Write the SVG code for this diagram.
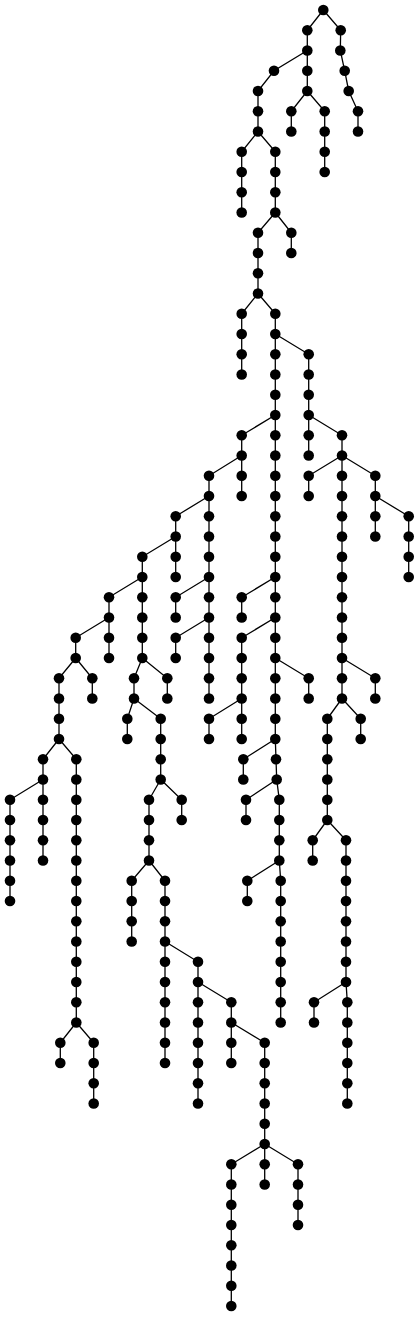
<svg xmlns="http://www.w3.org/2000/svg" width="419" height="1317" viewBox="0 0 419 1317">
<style>
.e path{fill:none;stroke:#000;stroke-width:1.3}
.n circle{fill:#000}
</style>
<rect width="419" height="1317" fill="#fff"/>
<g id="connectors" class="e">
<path d="M323.3 10 L307.3 30.3 V91"/>
<path d="M323.3 10 L340.7 30.3 L340.3 50.5 L344.7 70.8 L348.7 91 L358 111.3 V131.5"/>
<path d="M307.3 50.5 L274 70.8 L258 91 V131.5"/>
<path d="M307.3 91 L291.3 111.3 V131.5"/>
<path d="M307.3 91 L324.7 111.3 V172"/>
<path d="M258 131.5 L241.7 151.8 V212.5"/>
<path d="M258 131.5 L275.3 151.8 V212.5"/>
<path d="M275.3 212.5 L258 232.8 V293.5"/>
<path d="M275.3 212.5 L291.3 232.8 V253"/>
<path d="M258 293.5 L241.7 313.8 V374.5"/>
<path d="M258 293.5 L275.3 313.8 V739 L276 759.3 L276.7 779.5 L279.3 799.8 V860.5 L280.7 880.8 V1022.5"/>
<path d="M275.3 334 L308.7 354.3 V455.5"/>
<path d="M308.7 415 L342 435.3 V698.5"/>
<path d="M275.3 415 L241.7 435.3 V496"/>
<path d="M241.7 455.5 L209 475.8 V698.5"/>
<path d="M342 455.5 L308.7 475.8 V496"/>
<path d="M342 455.5 L375.3 475.8 V536.5"/>
<path d="M375.3 496 L408.7 516.3 V577"/>
<path d="M209 496 L175.7 516.3 V577"/>
<path d="M175.7 536.5 L142.3 556.8 V658"/>
<path d="M142.3 577 L109 597.3 V658"/>
<path d="M109 617.5 L75.7 637.8 V658"/>
<path d="M209 577 L175.7 597.3 V617.5"/>
<path d="M209 617.5 L175.7 637.8 V658"/>
<path d="M275.3 577 L241.7 597.3 V617.5"/>
<path d="M275.3 617.5 L241.7 637.8 V739"/>
<path d="M241.7 698.5 L209 718.8 V739"/>
<path d="M275.3 658 L308.7 678.3 V698.5"/>
<path d="M342 658 L375.3 678.3 V698.5"/>
<path d="M342 698.5 L327.3 718.8 V820"/>
<path d="M342 698.5 L360.7 718.8 V739"/>
<path d="M275.3 739 L243.3 759.3 V779.5"/>
<path d="M276.7 779.5 L246 799.8 V820"/>
<path d="M279.3 860.5 L247.3 880.8 V901"/>
<path d="M327.3 820 L312.7 840.3 V860.5"/>
<path d="M327.3 820 L346 840.3 V982"/>
<path d="M346 982 L314 1002.3 V1022.5"/>
<path d="M346 982 L347.3 1002.3 V1103.5"/>
<path d="M75.7 658 L59 678.3 V739"/>
<path d="M75.7 658 L92.3 678.3 V698.5"/>
<path d="M59 739 L43 759.3 V860.5"/>
<path d="M43 779.5 L10 799.8 V901"/>
<path d="M59 739 L76.3 759.3 V1022.5"/>
<path d="M76.3 1022.5 L60.3 1042.8 V1063"/>
<path d="M76.3 1022.5 L93.7 1042.8 V1103.5"/>
<path d="M142.3 658 L134 678.3 V698.5"/>
<path d="M142.3 658 L167.3 678.3 V698.5"/>
<path d="M134 698.5 L127.3 718.8 V739"/>
<path d="M134 698.5 L160.7 718.8 V779.5"/>
<path d="M160.7 779.5 L149 799.8 V860.5"/>
<path d="M160.7 779.5 L181.7 799.8 V820"/>
<path d="M149 860.5 L131.7 880.8 V941.5"/>
<path d="M149 860.5 L165 880.8 V1063"/>
<path d="M165 941.5 L198 961.8 V1103.5"/>
<path d="M198 982 L231.3 1002.3 V1063"/>
<path d="M231.3 1022.5 L264.7 1042.8 V1184.5"/>
<path d="M264.7 1144 L231.3 1164.3 V1306"/>
<path d="M264.7 1144 L298 1164.3 V1225"/>
</g>
<g id="nodes" class="n">
<g id="n0"><circle cx="323.3" cy="10" r="5.3"/></g>
<g id="n1"><circle cx="307.3" cy="30.3" r="5.3"/></g>
<g id="n2"><circle cx="307.3" cy="50.5" r="5.3"/></g>
<g id="n3"><circle cx="307.3" cy="70.8" r="5.3"/></g>
<g id="n4"><circle cx="307.3" cy="91" r="5.3"/></g>
<g id="n5"><circle cx="340.7" cy="30.3" r="5.3"/></g>
<g id="n6"><circle cx="340.3" cy="50.5" r="5.3"/></g>
<g id="n7"><circle cx="344.7" cy="70.8" r="5.3"/></g>
<g id="n8"><circle cx="348.7" cy="91" r="5.3"/></g>
<g id="n9"><circle cx="358" cy="111.3" r="5.3"/></g>
<g id="n10"><circle cx="358" cy="131.5" r="5.3"/></g>
<g id="n11"><circle cx="274" cy="70.8" r="5.3"/></g>
<g id="n12"><circle cx="258" cy="91" r="5.3"/></g>
<g id="n13"><circle cx="258" cy="111.3" r="5.3"/></g>
<g id="n14"><circle cx="258" cy="131.5" r="5.3"/></g>
<g id="n15"><circle cx="291.3" cy="111.3" r="5.3"/></g>
<g id="n16"><circle cx="291.3" cy="131.5" r="5.3"/></g>
<g id="n17"><circle cx="324.7" cy="111.3" r="5.3"/></g>
<g id="n18"><circle cx="324.7" cy="131.5" r="5.3"/></g>
<g id="n19"><circle cx="324.7" cy="151.8" r="5.3"/></g>
<g id="n20"><circle cx="324.7" cy="172" r="5.3"/></g>
<g id="n21"><circle cx="241.7" cy="151.8" r="5.3"/></g>
<g id="n22"><circle cx="241.7" cy="172" r="5.3"/></g>
<g id="n23"><circle cx="241.7" cy="192.3" r="5.3"/></g>
<g id="n24"><circle cx="241.7" cy="212.5" r="5.3"/></g>
<g id="n25"><circle cx="275.3" cy="151.8" r="5.3"/></g>
<g id="n26"><circle cx="275.3" cy="172" r="5.3"/></g>
<g id="n27"><circle cx="275.3" cy="192.3" r="5.3"/></g>
<g id="n28"><circle cx="275.3" cy="212.5" r="5.3"/></g>
<g id="n29"><circle cx="258" cy="232.8" r="5.3"/></g>
<g id="n30"><circle cx="258" cy="253" r="5.3"/></g>
<g id="n31"><circle cx="258" cy="273.3" r="5.3"/></g>
<g id="n32"><circle cx="258" cy="293.5" r="5.3"/></g>
<g id="n33"><circle cx="291.3" cy="232.8" r="5.3"/></g>
<g id="n34"><circle cx="291.3" cy="253" r="5.3"/></g>
<g id="n35"><circle cx="241.7" cy="313.8" r="5.3"/></g>
<g id="n36"><circle cx="241.7" cy="334" r="5.3"/></g>
<g id="n37"><circle cx="241.7" cy="354.3" r="5.3"/></g>
<g id="n38"><circle cx="241.7" cy="374.5" r="5.3"/></g>
<g id="n39"><circle cx="275.3" cy="313.8" r="5.3"/></g>
<g id="n40"><circle cx="275.3" cy="334" r="5.3"/></g>
<g id="n41"><circle cx="275.3" cy="354.3" r="5.3"/></g>
<g id="n42"><circle cx="275.3" cy="374.5" r="5.3"/></g>
<g id="n43"><circle cx="275.3" cy="394.8" r="5.3"/></g>
<g id="n44"><circle cx="275.3" cy="415" r="5.3"/></g>
<g id="n45"><circle cx="275.3" cy="435.3" r="5.3"/></g>
<g id="n46"><circle cx="275.3" cy="455.5" r="5.3"/></g>
<g id="n47"><circle cx="275.3" cy="475.8" r="5.3"/></g>
<g id="n48"><circle cx="275.3" cy="496" r="5.3"/></g>
<g id="n49"><circle cx="275.3" cy="516.3" r="5.3"/></g>
<g id="n50"><circle cx="275.3" cy="536.5" r="5.3"/></g>
<g id="n51"><circle cx="275.3" cy="556.8" r="5.3"/></g>
<g id="n52"><circle cx="275.3" cy="577" r="5.3"/></g>
<g id="n53"><circle cx="275.3" cy="597.3" r="5.3"/></g>
<g id="n54"><circle cx="275.3" cy="617.5" r="5.3"/></g>
<g id="n55"><circle cx="275.3" cy="637.8" r="5.3"/></g>
<g id="n56"><circle cx="275.3" cy="658" r="5.3"/></g>
<g id="n57"><circle cx="275.3" cy="678.3" r="5.3"/></g>
<g id="n58"><circle cx="275.3" cy="698.5" r="5.3"/></g>
<g id="n59"><circle cx="275.3" cy="718.8" r="5.3"/></g>
<g id="n60"><circle cx="275.3" cy="739" r="5.3"/></g>
<g id="n61"><circle cx="276" cy="759.3" r="5.3"/></g>
<g id="n62"><circle cx="276.7" cy="779.5" r="5.3"/></g>
<g id="n63"><circle cx="279.3" cy="799.8" r="5.3"/></g>
<g id="n64"><circle cx="279.3" cy="820" r="5.3"/></g>
<g id="n65"><circle cx="279.3" cy="840.3" r="5.3"/></g>
<g id="n66"><circle cx="279.3" cy="860.5" r="5.3"/></g>
<g id="n67"><circle cx="280.7" cy="880.8" r="5.3"/></g>
<g id="n68"><circle cx="280.7" cy="901" r="5.3"/></g>
<g id="n69"><circle cx="280.7" cy="921.3" r="5.3"/></g>
<g id="n70"><circle cx="280.7" cy="941.5" r="5.3"/></g>
<g id="n71"><circle cx="280.7" cy="961.8" r="5.3"/></g>
<g id="n72"><circle cx="280.7" cy="982" r="5.3"/></g>
<g id="n73"><circle cx="280.7" cy="1002.3" r="5.3"/></g>
<g id="n74"><circle cx="280.7" cy="1022.5" r="5.3"/></g>
<g id="n75"><circle cx="308.7" cy="354.3" r="5.3"/></g>
<g id="n76"><circle cx="308.7" cy="374.5" r="5.3"/></g>
<g id="n77"><circle cx="308.7" cy="394.8" r="5.3"/></g>
<g id="n78"><circle cx="308.7" cy="415" r="5.3"/></g>
<g id="n79"><circle cx="308.7" cy="435.3" r="5.3"/></g>
<g id="n80"><circle cx="308.7" cy="455.5" r="5.3"/></g>
<g id="n81"><circle cx="342" cy="435.3" r="5.3"/></g>
<g id="n82"><circle cx="342" cy="455.5" r="5.3"/></g>
<g id="n83"><circle cx="342" cy="475.8" r="5.3"/></g>
<g id="n84"><circle cx="342" cy="496" r="5.3"/></g>
<g id="n85"><circle cx="342" cy="516.3" r="5.3"/></g>
<g id="n86"><circle cx="342" cy="536.5" r="5.3"/></g>
<g id="n87"><circle cx="342" cy="556.8" r="5.3"/></g>
<g id="n88"><circle cx="342" cy="577" r="5.3"/></g>
<g id="n89"><circle cx="342" cy="597.3" r="5.3"/></g>
<g id="n90"><circle cx="342" cy="617.5" r="5.3"/></g>
<g id="n91"><circle cx="342" cy="637.8" r="5.3"/></g>
<g id="n92"><circle cx="342" cy="658" r="5.3"/></g>
<g id="n93"><circle cx="342" cy="678.3" r="5.3"/></g>
<g id="n94"><circle cx="342" cy="698.5" r="5.3"/></g>
<g id="n95"><circle cx="241.7" cy="435.3" r="5.3"/></g>
<g id="n96"><circle cx="241.7" cy="455.5" r="5.3"/></g>
<g id="n97"><circle cx="241.7" cy="475.8" r="5.3"/></g>
<g id="n98"><circle cx="241.7" cy="496" r="5.3"/></g>
<g id="n99"><circle cx="209" cy="475.8" r="5.3"/></g>
<g id="n100"><circle cx="209" cy="496" r="5.3"/></g>
<g id="n101"><circle cx="209" cy="516.3" r="5.3"/></g>
<g id="n102"><circle cx="209" cy="536.5" r="5.3"/></g>
<g id="n103"><circle cx="209" cy="556.8" r="5.3"/></g>
<g id="n104"><circle cx="209" cy="577" r="5.3"/></g>
<g id="n105"><circle cx="209" cy="597.3" r="5.3"/></g>
<g id="n106"><circle cx="209" cy="617.5" r="5.3"/></g>
<g id="n107"><circle cx="209" cy="637.8" r="5.3"/></g>
<g id="n108"><circle cx="209" cy="658" r="5.3"/></g>
<g id="n109"><circle cx="209" cy="678.3" r="5.3"/></g>
<g id="n110"><circle cx="209" cy="698.5" r="5.3"/></g>
<g id="n111"><circle cx="308.7" cy="475.8" r="5.3"/></g>
<g id="n112"><circle cx="308.7" cy="496" r="5.3"/></g>
<g id="n113"><circle cx="375.3" cy="475.8" r="5.3"/></g>
<g id="n114"><circle cx="375.3" cy="496" r="5.3"/></g>
<g id="n115"><circle cx="375.3" cy="516.3" r="5.3"/></g>
<g id="n116"><circle cx="375.3" cy="536.5" r="5.3"/></g>
<g id="n117"><circle cx="408.7" cy="516.3" r="5.3"/></g>
<g id="n118"><circle cx="408.7" cy="536.5" r="5.3"/></g>
<g id="n119"><circle cx="408.7" cy="556.8" r="5.3"/></g>
<g id="n120"><circle cx="408.7" cy="577" r="5.3"/></g>
<g id="n121"><circle cx="175.7" cy="516.3" r="5.3"/></g>
<g id="n122"><circle cx="175.7" cy="536.5" r="5.3"/></g>
<g id="n123"><circle cx="175.7" cy="556.8" r="5.3"/></g>
<g id="n124"><circle cx="175.7" cy="577" r="5.3"/></g>
<g id="n125"><circle cx="142.3" cy="556.8" r="5.3"/></g>
<g id="n126"><circle cx="142.3" cy="577" r="5.3"/></g>
<g id="n127"><circle cx="142.3" cy="597.3" r="5.3"/></g>
<g id="n128"><circle cx="142.3" cy="617.5" r="5.3"/></g>
<g id="n129"><circle cx="142.3" cy="637.8" r="5.3"/></g>
<g id="n130"><circle cx="142.3" cy="658" r="5.3"/></g>
<g id="n131"><circle cx="109" cy="597.3" r="5.3"/></g>
<g id="n132"><circle cx="109" cy="617.5" r="5.3"/></g>
<g id="n133"><circle cx="109" cy="637.8" r="5.3"/></g>
<g id="n134"><circle cx="109" cy="658" r="5.3"/></g>
<g id="n135"><circle cx="75.7" cy="637.8" r="5.3"/></g>
<g id="n136"><circle cx="75.7" cy="658" r="5.3"/></g>
<g id="n137"><circle cx="175.7" cy="597.3" r="5.3"/></g>
<g id="n138"><circle cx="175.7" cy="617.5" r="5.3"/></g>
<g id="n139"><circle cx="175.7" cy="637.8" r="5.3"/></g>
<g id="n140"><circle cx="175.7" cy="658" r="5.3"/></g>
<g id="n141"><circle cx="241.7" cy="597.3" r="5.3"/></g>
<g id="n142"><circle cx="241.7" cy="617.5" r="5.3"/></g>
<g id="n143"><circle cx="241.7" cy="637.8" r="5.3"/></g>
<g id="n144"><circle cx="241.7" cy="658" r="5.3"/></g>
<g id="n145"><circle cx="241.7" cy="678.3" r="5.3"/></g>
<g id="n146"><circle cx="241.7" cy="698.5" r="5.3"/></g>
<g id="n147"><circle cx="241.7" cy="718.8" r="5.3"/></g>
<g id="n148"><circle cx="241.7" cy="739" r="5.3"/></g>
<g id="n149"><circle cx="209" cy="718.8" r="5.3"/></g>
<g id="n150"><circle cx="209" cy="739" r="5.3"/></g>
<g id="n151"><circle cx="308.7" cy="678.3" r="5.3"/></g>
<g id="n152"><circle cx="308.7" cy="698.5" r="5.3"/></g>
<g id="n153"><circle cx="375.3" cy="678.3" r="5.3"/></g>
<g id="n154"><circle cx="375.3" cy="698.5" r="5.3"/></g>
<g id="n155"><circle cx="327.3" cy="718.8" r="5.3"/></g>
<g id="n156"><circle cx="327.3" cy="739" r="5.3"/></g>
<g id="n157"><circle cx="327.3" cy="759.3" r="5.3"/></g>
<g id="n158"><circle cx="327.3" cy="779.5" r="5.3"/></g>
<g id="n159"><circle cx="327.3" cy="799.8" r="5.3"/></g>
<g id="n160"><circle cx="327.3" cy="820" r="5.3"/></g>
<g id="n161"><circle cx="360.7" cy="718.8" r="5.3"/></g>
<g id="n162"><circle cx="360.7" cy="739" r="5.3"/></g>
<g id="n163"><circle cx="243.3" cy="759.3" r="5.3"/></g>
<g id="n164"><circle cx="243.3" cy="779.5" r="5.3"/></g>
<g id="n165"><circle cx="246" cy="799.8" r="5.3"/></g>
<g id="n166"><circle cx="246" cy="820" r="5.3"/></g>
<g id="n167"><circle cx="247.3" cy="880.8" r="5.3"/></g>
<g id="n168"><circle cx="247.3" cy="901" r="5.3"/></g>
<g id="n169"><circle cx="312.7" cy="840.3" r="5.3"/></g>
<g id="n170"><circle cx="312.7" cy="860.5" r="5.3"/></g>
<g id="n171"><circle cx="346" cy="840.3" r="5.3"/></g>
<g id="n172"><circle cx="346" cy="860.5" r="5.3"/></g>
<g id="n173"><circle cx="346" cy="880.8" r="5.3"/></g>
<g id="n174"><circle cx="346" cy="901" r="5.3"/></g>
<g id="n175"><circle cx="346" cy="921.3" r="5.3"/></g>
<g id="n176"><circle cx="346" cy="941.5" r="5.3"/></g>
<g id="n177"><circle cx="346" cy="961.8" r="5.3"/></g>
<g id="n178"><circle cx="346" cy="982" r="5.3"/></g>
<g id="n179"><circle cx="314" cy="1002.3" r="5.3"/></g>
<g id="n180"><circle cx="314" cy="1022.5" r="5.3"/></g>
<g id="n181"><circle cx="347.3" cy="1002.3" r="5.3"/></g>
<g id="n182"><circle cx="347.3" cy="1022.5" r="5.3"/></g>
<g id="n183"><circle cx="347.3" cy="1042.8" r="5.3"/></g>
<g id="n184"><circle cx="347.3" cy="1063" r="5.3"/></g>
<g id="n185"><circle cx="347.3" cy="1083.3" r="5.3"/></g>
<g id="n186"><circle cx="347.3" cy="1103.5" r="5.3"/></g>
<g id="n187"><circle cx="59" cy="678.3" r="5.3"/></g>
<g id="n188"><circle cx="59" cy="698.5" r="5.3"/></g>
<g id="n189"><circle cx="59" cy="718.8" r="5.3"/></g>
<g id="n190"><circle cx="59" cy="739" r="5.3"/></g>
<g id="n191"><circle cx="92.3" cy="678.3" r="5.3"/></g>
<g id="n192"><circle cx="92.3" cy="698.5" r="5.3"/></g>
<g id="n193"><circle cx="43" cy="759.3" r="5.3"/></g>
<g id="n194"><circle cx="43" cy="779.5" r="5.3"/></g>
<g id="n195"><circle cx="43" cy="799.8" r="5.3"/></g>
<g id="n196"><circle cx="43" cy="820" r="5.3"/></g>
<g id="n197"><circle cx="43" cy="840.3" r="5.3"/></g>
<g id="n198"><circle cx="43" cy="860.5" r="5.3"/></g>
<g id="n199"><circle cx="10" cy="799.8" r="5.3"/></g>
<g id="n200"><circle cx="10" cy="820" r="5.3"/></g>
<g id="n201"><circle cx="10" cy="840.3" r="5.3"/></g>
<g id="n202"><circle cx="10" cy="860.5" r="5.3"/></g>
<g id="n203"><circle cx="10" cy="880.8" r="5.3"/></g>
<g id="n204"><circle cx="10" cy="901" r="5.3"/></g>
<g id="n205"><circle cx="76.3" cy="759.3" r="5.3"/></g>
<g id="n206"><circle cx="76.3" cy="779.5" r="5.3"/></g>
<g id="n207"><circle cx="76.3" cy="799.8" r="5.3"/></g>
<g id="n208"><circle cx="76.3" cy="820" r="5.3"/></g>
<g id="n209"><circle cx="76.3" cy="840.3" r="5.3"/></g>
<g id="n210"><circle cx="76.3" cy="860.5" r="5.3"/></g>
<g id="n211"><circle cx="76.3" cy="880.8" r="5.3"/></g>
<g id="n212"><circle cx="76.3" cy="901" r="5.3"/></g>
<g id="n213"><circle cx="76.3" cy="921.3" r="5.3"/></g>
<g id="n214"><circle cx="76.3" cy="941.5" r="5.3"/></g>
<g id="n215"><circle cx="76.3" cy="961.8" r="5.3"/></g>
<g id="n216"><circle cx="76.3" cy="982" r="5.3"/></g>
<g id="n217"><circle cx="76.3" cy="1002.3" r="5.3"/></g>
<g id="n218"><circle cx="76.3" cy="1022.5" r="5.3"/></g>
<g id="n219"><circle cx="60.3" cy="1042.8" r="5.3"/></g>
<g id="n220"><circle cx="60.3" cy="1063" r="5.3"/></g>
<g id="n221"><circle cx="93.7" cy="1042.8" r="5.3"/></g>
<g id="n222"><circle cx="93.7" cy="1063" r="5.3"/></g>
<g id="n223"><circle cx="93.7" cy="1083.3" r="5.3"/></g>
<g id="n224"><circle cx="93.7" cy="1103.5" r="5.3"/></g>
<g id="n225"><circle cx="134" cy="678.3" r="5.3"/></g>
<g id="n226"><circle cx="134" cy="698.5" r="5.3"/></g>
<g id="n227"><circle cx="167.3" cy="678.3" r="5.3"/></g>
<g id="n228"><circle cx="167.3" cy="698.5" r="5.3"/></g>
<g id="n229"><circle cx="127.3" cy="718.8" r="5.3"/></g>
<g id="n230"><circle cx="127.3" cy="739" r="5.3"/></g>
<g id="n231"><circle cx="160.7" cy="718.8" r="5.3"/></g>
<g id="n232"><circle cx="160.7" cy="739" r="5.3"/></g>
<g id="n233"><circle cx="160.7" cy="759.3" r="5.3"/></g>
<g id="n234"><circle cx="160.7" cy="779.5" r="5.3"/></g>
<g id="n235"><circle cx="149" cy="799.8" r="5.3"/></g>
<g id="n236"><circle cx="149" cy="820" r="5.3"/></g>
<g id="n237"><circle cx="149" cy="840.3" r="5.3"/></g>
<g id="n238"><circle cx="149" cy="860.5" r="5.3"/></g>
<g id="n239"><circle cx="181.7" cy="799.8" r="5.3"/></g>
<g id="n240"><circle cx="181.7" cy="820" r="5.3"/></g>
<g id="n241"><circle cx="131.7" cy="880.8" r="5.3"/></g>
<g id="n242"><circle cx="131.7" cy="901" r="5.3"/></g>
<g id="n243"><circle cx="131.7" cy="921.3" r="5.3"/></g>
<g id="n244"><circle cx="131.7" cy="941.5" r="5.3"/></g>
<g id="n245"><circle cx="165" cy="880.8" r="5.3"/></g>
<g id="n246"><circle cx="165" cy="901" r="5.3"/></g>
<g id="n247"><circle cx="165" cy="921.3" r="5.3"/></g>
<g id="n248"><circle cx="165" cy="941.5" r="5.3"/></g>
<g id="n249"><circle cx="165" cy="961.8" r="5.3"/></g>
<g id="n250"><circle cx="165" cy="982" r="5.3"/></g>
<g id="n251"><circle cx="165" cy="1002.3" r="5.3"/></g>
<g id="n252"><circle cx="165" cy="1022.5" r="5.3"/></g>
<g id="n253"><circle cx="165" cy="1042.8" r="5.3"/></g>
<g id="n254"><circle cx="165" cy="1063" r="5.3"/></g>
<g id="n255"><circle cx="198" cy="961.8" r="5.3"/></g>
<g id="n256"><circle cx="198" cy="982" r="5.3"/></g>
<g id="n257"><circle cx="198" cy="1002.3" r="5.3"/></g>
<g id="n258"><circle cx="198" cy="1022.5" r="5.3"/></g>
<g id="n259"><circle cx="198" cy="1042.8" r="5.3"/></g>
<g id="n260"><circle cx="198" cy="1063" r="5.3"/></g>
<g id="n261"><circle cx="198" cy="1083.3" r="5.3"/></g>
<g id="n262"><circle cx="198" cy="1103.5" r="5.3"/></g>
<g id="n263"><circle cx="231.3" cy="1002.3" r="5.3"/></g>
<g id="n264"><circle cx="231.3" cy="1022.5" r="5.3"/></g>
<g id="n265"><circle cx="231.3" cy="1042.8" r="5.3"/></g>
<g id="n266"><circle cx="231.3" cy="1063" r="5.3"/></g>
<g id="n267"><circle cx="264.7" cy="1042.8" r="5.3"/></g>
<g id="n268"><circle cx="264.7" cy="1063" r="5.3"/></g>
<g id="n269"><circle cx="264.7" cy="1083.3" r="5.3"/></g>
<g id="n270"><circle cx="264.7" cy="1103.5" r="5.3"/></g>
<g id="n271"><circle cx="264.7" cy="1123.8" r="5.3"/></g>
<g id="n272"><circle cx="264.7" cy="1144" r="5.3"/></g>
<g id="n273"><circle cx="264.7" cy="1164.3" r="5.3"/></g>
<g id="n274"><circle cx="264.7" cy="1184.5" r="5.3"/></g>
<g id="n275"><circle cx="231.3" cy="1164.3" r="5.3"/></g>
<g id="n276"><circle cx="231.3" cy="1184.5" r="5.3"/></g>
<g id="n277"><circle cx="231.3" cy="1204.8" r="5.3"/></g>
<g id="n278"><circle cx="231.3" cy="1225" r="5.3"/></g>
<g id="n279"><circle cx="231.3" cy="1245.3" r="5.3"/></g>
<g id="n280"><circle cx="231.3" cy="1265.5" r="5.3"/></g>
<g id="n281"><circle cx="231.3" cy="1285.8" r="5.3"/></g>
<g id="n282"><circle cx="231.3" cy="1306" r="5.3"/></g>
<g id="n283"><circle cx="298" cy="1164.3" r="5.3"/></g>
<g id="n284"><circle cx="298" cy="1184.5" r="5.3"/></g>
<g id="n285"><circle cx="298" cy="1204.8" r="5.3"/></g>
<g id="n286"><circle cx="298" cy="1225" r="5.3"/></g>
</g>
</svg>
